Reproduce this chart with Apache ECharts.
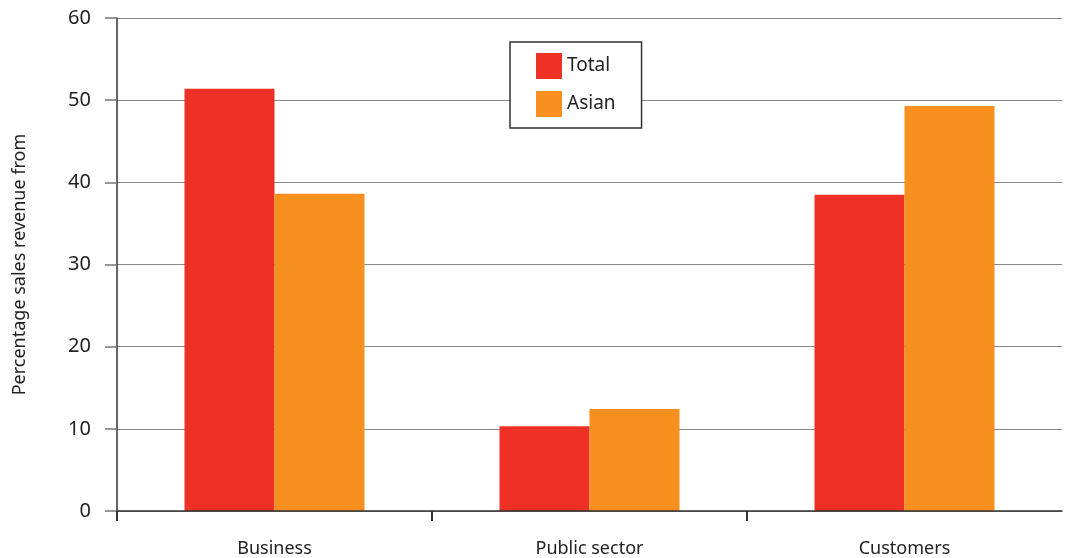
<!DOCTYPE html>
<html>
<head>
<meta charset="utf-8">
<script src="https://cdn.jsdelivr.net/npm/echarts@6/dist/echarts.min.js"></script>
<style>
  html, body { margin: 0; padding: 0; background: #fff; }
  #chart { width: 1068px; height: 558px; }
</style>
</head>
<body>
<div id="chart"></div>
<script>
// 数据
var categories = ['Business', 'Public sector', 'Customers'];
var totalValues = [51.4, 10.3, 38.5];
var asianValues = [38.6, 12.4, 49.3];
var seriesNames = ['Total', 'Asian'];

var myChart = echarts.init(document.getElementById('chart'));
var font = '"Noto Sans", "Open Sans", sans-serif';

var option = {
  animation: false,
  backgroundColor: '#fff',
  grid: {
    left: 117,
    right: 6,
    top: 18,
    bottom: 47,
    outerBoundsMode: 'none'
  },
  legend: {
    data: seriesNames,
    orient: 'vertical',
    left: 510,
    top: 42,
    width: 132,
    padding: [11, 26, 11, 26],
    itemWidth: 26,
    itemHeight: 26,
    itemGap: 12,
    backgroundColor: '#fff',
    borderColor: '#333',
    borderWidth: 1.5,
    icon: 'rect',
    textStyle: {
      fontFamily: font,
      fontSize: 19,
      color: '#222',
      padding: [3, 0, 0, 0]
    }
  },
  xAxis: [
    {
      type: 'category',
      data: categories,
      axisLine: {
        show: true,
        lineStyle: { color: '#333', width: 1.5 }
      },
      axisTick: { show: false },
      axisLabel: {
        fontFamily: font,
        fontSize: 18,
        color: '#222',
        margin: 29
      },
      z: 5
    },
    {
      // 分类之间的刻度（最右端无刻度）
      type: 'value',
      position: 'bottom',
      min: 0,
      max: categories.length,
      interval: 1,
      axisLine: { show: false },
      splitLine: { show: false },
      axisLabel: { show: false },
      axisTick: {
        show: true,
        length: 10,
        customValues: [0, 1, 2],
        lineStyle: { color: '#333', width: 2 }
      },
      z: 6
    }
  ],
  yAxis: {
    type: 'value',
    min: 0,
    max: 60,
    interval: 10,
    name: 'Percentage sales revenue from',
    nameLocation: 'middle',
    nameGap: 88,
    nameTextStyle: {
      fontFamily: font,
      fontSize: 18,
      color: '#222'
    },
    axisLine: {
      show: true,
      lineStyle: { color: '#333', width: 1.5 }
    },
    axisTick: {
      show: true,
      inside: false,
      length: 12,
      lineStyle: { color: '#777', width: 1.5 }
    },
    splitLine: {
      show: true,
      lineStyle: { color: '#888', width: 1.2 }
    },
    axisLabel: {
      fontFamily: font,
      fontSize: 20,
      color: '#222',
      margin: 26
    }
  },
  series: [
    {
      name: seriesNames[0],
      type: 'bar',
      barWidth: 90,
      barGap: '0%',
      itemStyle: { color: '#EE3124' },
      data: totalValues
    },
    {
      name: seriesNames[1],
      type: 'bar',
      barWidth: 90,
      barGap: '0%',
      itemStyle: { color: '#F7901E' },
      data: asianValues
    }
  ]
};
myChart.setOption(option);
window.addEventListener('resize', function () {
  myChart.resize();
});
</script>
</body>
</html>
